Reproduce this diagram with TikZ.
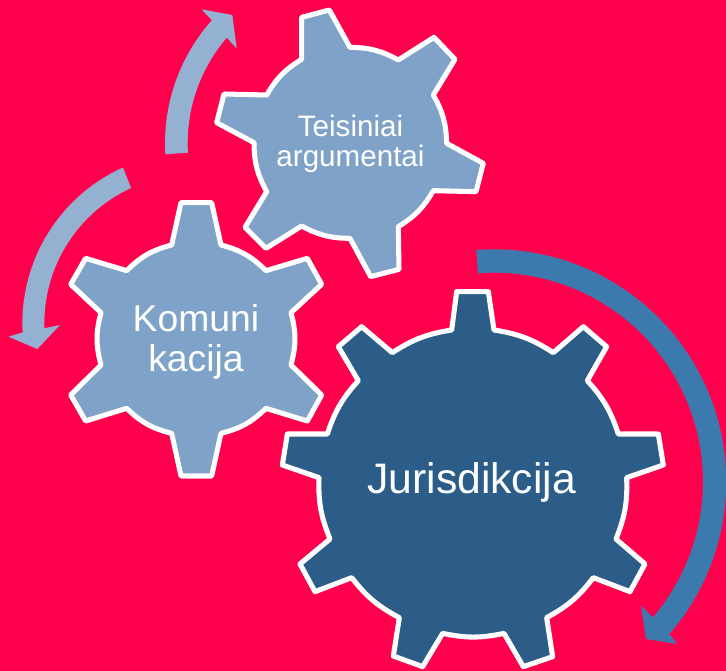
\documentclass[tikz,border=0pt]{standalone}
\usepackage{fontspec}
\setmainfont{Liberation Sans}
\definecolor{bgred}{HTML}{FF004D}
\definecolor{geardark}{HTML}{2B5D88}
\definecolor{gearlight}{HTML}{7FA2C8}
\definecolor{arrowlight}{HTML}{95B1D2}
\definecolor{arrowdark}{HTML}{3C7AAE}
\tikzset{
  gear/.style={draw=white,line width=3.8pt,line join=round},
  v/.style={bend left=#1},
  zoomed/.style={scale=1/3},
  gtext/.style={text=white,align=center,inner sep=0pt},
}
\begin{document}
\begin{tikzpicture}[x=0.75pt,y=-0.75pt]
\fill[bgred] (0,0) rectangle (726,671);
\useasboundingbox (0,0) rectangle (726,671);
% Large gear
\begin{scope}[shift={(270,240)},zoomed]
\fill[arrowdark] plot[domain=-94.4:41,samples=60] ({672+697*cos(\x)},{725+697*sin(\x)})
  -- (1222,1212) -- (1128,1197) -- (1113,1097)
  -- plot[domain=40.5:-94.4,samples=60] ({672+627*cos(\x)},{725+627*sin(\x)}) -- cycle;
\draw[gear,fill=geardark] (545,270) -- (560,155) -- (655,155) -- (672,270)
  to[v=12] (850,338) -- (940,260) -- (1010,320) -- (952,422)
  to[v=12] (1045,582) -- (1165,582) -- (1180,675) -- (1070,713)
  to[v=12] (1038,897) -- (1125,972) -- (1080,1055) -- (970,1013)
  to[v=12] (830,1133) -- (848,1250) -- (760,1280) -- (702,1180)
  to[v=12] (518,1180) -- (458,1280) -- (370,1248) -- (388,1133)
  to[v=12] (245,1013) -- (135,1055) -- (90,972) -- (180,897)
  to[v=12] (147,713) -- (37,675) -- (52,582) -- (172,582)
  to[v=12] (265,422) -- (205,320) -- (275,260) -- (367,338)
  to[v=12] (545,270) -- cycle;
\end{scope}
\begin{scope}[zoomed]
% Upper arrow
\fill[arrowlight] plot[domain=176.6:221.7,samples=30] ({1050+555*cos(\x)},{430+555*sin(\x)})
  -- (605,28) -- (697,45) -- (710,145)
  -- plot[domain=220.6:176.7,samples=30] ({1050+487*cos(\x)},{430+487*sin(\x)}) -- cycle;
% Left arrow
\fill[arrowlight] plot[domain=245.7:176.9,samples=30] ({580+513*cos(\x)},{970+513*sin(\x)})
  -- (25,1010) -- (112,1047) -- (180,975)
  -- plot[domain=178.1:245.3,samples=30] ({580+447*cos(\x)},{970+447*sin(\x)}) -- cycle;
% Komunikacija gear
\draw[gear,fill=gearlight] (515,735) -- (543,608) -- (635,608) -- (663,735)
  to[v=15] (798,812) -- (922,775) -- (965,853) -- (873,938)
  to[v=15] (873,1095) -- (965,1185) -- (922,1263) -- (798,1225)
  to[v=15] (663,1300) -- (635,1428) -- (543,1428) -- (515,1300)
  to[v=15] (380,1225) -- (257,1263) -- (212,1185) -- (303,1095)
  to[v=15] (303,938) -- (212,853) -- (257,775) -- (380,812)
  to[v=15] (515,735) -- cycle;
% Teisiniai gear
\draw[gear,fill=gearlight] (905,178) -- (905,52) -- (988,30) -- (1050,142)
  to[v=14] (1195,180) -- (1302,112) -- (1365,178) -- (1300,285)
  to[v=14] (1340,430) -- (1450,490) -- (1428,575) -- (1300,572)
  to[v=14] (1195,680) -- (1197,808) -- (1112,830) -- (1050,715)
  to[v=14] (905,678) -- (798,745) -- (735,682) -- (800,575)
  to[v=14] (762,428) -- (650,368) -- (672,282) -- (800,285)
  to[v=14] (905,178) -- cycle;
\end{scope}
\node[gtext,anchor=base,font=\fontsize{32pt}{38pt}\selectfont] (jur) at (471.7,493.5) {Jurisdikcija};
\node[gtext,font=\fontsize{28pt}{29.8pt}\selectfont] (kom) at (196,341.5) {Komuni\\kacija};
\node[gtext,font=\fontsize{22.2pt}{22.6pt}\selectfont] (tei) at (350.5,143.5) {Teisiniai\\argumentai};
\end{tikzpicture}
\end{document}
